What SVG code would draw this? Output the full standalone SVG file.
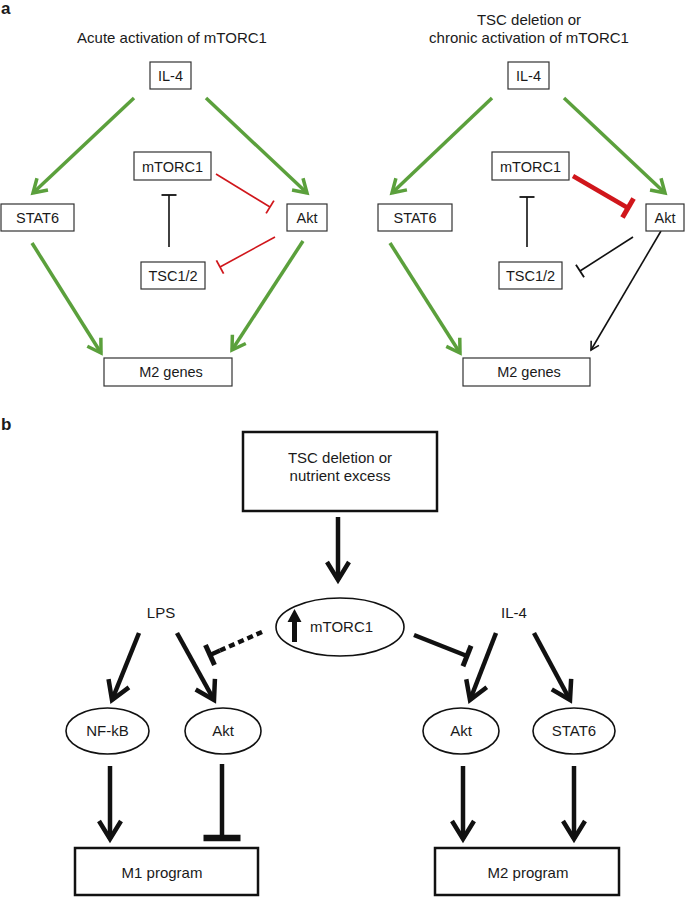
<svg xmlns="http://www.w3.org/2000/svg" width="685" height="897" viewBox="0 0 685 897">
<style>
text{font-family:"Liberation Sans",Arial,sans-serif;fill:#1a1a1a}
.t{font-size:15px;text-anchor:middle}
.bl{font-size:14.5px;text-anchor:middle}
.lab{font-size:17px;font-weight:bold}
.box{fill:#fff;stroke:#333;stroke-width:1.2}
.bbox{fill:#fff;stroke:#111;stroke-width:2.5}
.ell{fill:#fff;stroke:#111;stroke-width:1.6}
.g{stroke:#5ba03c;stroke-width:3.5;fill:none;marker-end:url(#aG)}
.rt{stroke:#d0161b;stroke-width:1.6;fill:none;marker-end:url(#bR)}
.rT{stroke:#d0161b;stroke-width:4.5;fill:none;marker-end:url(#bRT)}
.kt{stroke:#111;stroke-width:1.6;fill:none}
.K{stroke:#111;stroke-width:4.5;fill:none}
</style>
<defs>
<marker id="aG" markerUnits="userSpaceOnUse" orient="auto" overflow="visible" markerWidth="1" markerHeight="1"><path d="M-13,-8 L0,0 L-13,8" fill="none" stroke="#5ba03c" stroke-width="3.5"/></marker>
<marker id="aK" markerUnits="userSpaceOnUse" orient="auto" overflow="visible" markerWidth="1" markerHeight="1"><path d="M-18,-11 L0,0 L-18,11" fill="none" stroke="#111" stroke-width="4.5"/></marker>
<marker id="aKs" markerUnits="userSpaceOnUse" orient="auto" overflow="visible" markerWidth="1" markerHeight="1"><path d="M-8,-4.5 L0,0 L-8,4.5" fill="none" stroke="#111" stroke-width="1.6"/></marker>
<marker id="bR" markerUnits="userSpaceOnUse" orient="auto" overflow="visible" markerWidth="1" markerHeight="1"><path d="M0,-7.5 L0,7.5" stroke="#d0161b" stroke-width="1.8"/></marker>
<marker id="bRT" markerUnits="userSpaceOnUse" orient="auto" overflow="visible" markerWidth="1" markerHeight="1"><path d="M0,-11 L0,11" stroke="#d0161b" stroke-width="5"/></marker>
<marker id="bKt" markerUnits="userSpaceOnUse" orient="auto" overflow="visible" markerWidth="1" markerHeight="1"><path d="M0,-7.5 L0,7.5" stroke="#111" stroke-width="1.8"/></marker>
<marker id="bK" markerUnits="userSpaceOnUse" orient="auto" overflow="visible" markerWidth="1" markerHeight="1"><path d="M0,-11 L0,11" stroke="#111" stroke-width="5"/></marker>
<marker id="bKB" markerUnits="userSpaceOnUse" orient="auto" overflow="visible" markerWidth="1" markerHeight="1"><path d="M0,-18.5 L0,18.5" stroke="#111" stroke-width="6.5"/></marker>
</defs>
<rect width="685" height="897" fill="#fff"/>

<text class="lab" x="1" y="14">a</text>
<text class="lab" x="1" y="430">b</text>

<g id="titles">
<text class="t" x="172" y="43">Acute activation of mTORC1</text>
<text class="t" x="529" y="25">TSC deletion or</text>
<text class="t" x="529" y="43">chronic activation of mTORC1</text>
</g>

<g id="connectors">
<line class="g" x1="134" y1="98" x2="33" y2="193"/>
<line class="g" x1="206" y1="98" x2="307" y2="193"/>
<line class="g" x1="32" y1="243" x2="101" y2="353"/>
<line class="g" x1="303" y1="241" x2="232" y2="350"/>
<line class="rt" x1="216" y1="174" x2="270" y2="207"/>
<line class="rt" x1="275" y1="237" x2="220" y2="267"/>
<line class="kt" x1="169" y1="247" x2="169" y2="195" stroke-width="2" marker-end="url(#bKt)"/>
<line class="g" x1="492" y1="98" x2="392" y2="193"/>
<line class="g" x1="564" y1="98" x2="665" y2="193"/>
<line class="g" x1="390" y1="243" x2="460" y2="353"/>
<line class="kt" x1="661" y1="231" x2="591" y2="350" marker-end="url(#aKs)"/>
<line class="rT" x1="573" y1="176" x2="628" y2="208"/>
<line class="kt" x1="633" y1="237" x2="580" y2="271" marker-end="url(#bKt)"/>
<line class="kt" x1="527" y1="247" x2="527" y2="197" stroke-width="2" marker-end="url(#bKt)"/>
<line class="K" x1="338" y1="517" x2="338" y2="580" marker-end="url(#aK)"/>
<line class="K" x1="139" y1="633" x2="112" y2="700" marker-end="url(#aK)"/>
<line class="K" x1="177" y1="633" x2="214" y2="700" stroke-width="3.8" marker-end="url(#aK)"/>
<line class="K" x1="496" y1="633" x2="470" y2="700" marker-end="url(#aK)"/>
<line class="K" x1="534" y1="633" x2="570" y2="700" marker-end="url(#aK)"/>
<line class="K" x1="110" y1="766" x2="110" y2="839" marker-end="url(#aK)"/>
<line class="K" x1="463" y1="766" x2="463" y2="839" marker-end="url(#aK)"/>
<line class="K" x1="574" y1="766" x2="574" y2="839" marker-end="url(#aK)"/>
<line class="K" x1="222" y1="764" x2="222" y2="838" marker-end="url(#bKB)"/>
<line class="K" x1="262" y1="632" x2="220" y2="650.5" stroke-width="6" stroke-dasharray="6 4"/>
<line class="K" x1="220" y1="650.5" x2="210" y2="655" stroke-width="0" marker-end="url(#bK)"/>
<line class="K" x1="414" y1="635" x2="467" y2="656" marker-end="url(#bK)"/>
</g>

<g id="a-left-IL4"><rect class="box" x="150" y="62" width="41" height="27"/><text class="bl" x="170.5" y="81">IL-4</text></g>
<g id="a-left-mTORC1"><rect class="box" x="134" y="152" width="77" height="28"/><text class="bl" x="172.5" y="171.5">mTORC1</text></g>
<g id="a-left-STAT6"><rect class="box" x="1" y="204" width="73" height="27"/><text class="bl" x="37.5" y="223">STAT6</text></g>
<g id="a-left-Akt"><rect class="box" x="287" y="204" width="40" height="27"/><text class="bl" x="307" y="223">Akt</text></g>
<g id="a-left-TSC"><rect class="box" x="141" y="262" width="64" height="27"/><text class="bl" x="173" y="281">TSC1/2</text></g>
<g id="a-left-M2"><rect class="box" x="104" y="358" width="128" height="28"/><text class="bl" x="171" y="377">M2 genes</text></g>

<g id="a-right-IL4"><rect class="box" x="508" y="62" width="41" height="27"/><text class="bl" x="528.5" y="81">IL-4</text></g>
<g id="a-right-mTORC1"><rect class="box" x="492" y="152" width="77" height="28"/><text class="bl" x="530.5" y="171.5">mTORC1</text></g>
<g id="a-right-STAT6"><rect class="box" x="378" y="204" width="74" height="27"/><text class="bl" x="415" y="223">STAT6</text></g>
<g id="a-right-Akt"><rect class="box" x="646" y="204" width="38" height="27"/><text class="bl" x="665" y="223">Akt</text></g>
<g id="a-right-TSC"><rect class="box" x="499" y="262" width="63" height="27"/><text class="bl" x="530.5" y="281">TSC1/2</text></g>
<g id="a-right-M2"><rect class="box" x="463" y="358" width="127" height="28"/><text class="bl" x="529" y="377">M2 genes</text></g>

<g id="b-top"><rect class="bbox" x="243" y="432" width="194" height="79"/><text class="t" x="340" y="463">TSC deletion or</text><text class="t" x="340" y="481">nutrient excess</text></g>
<g id="b-mTORC1"><ellipse class="ell" cx="340" cy="627" rx="64" ry="29"/><path d="M292,642 L297,642 L297,622 L301.5,622 L294.5,609 L287.5,622 L292,622 Z" fill="#111"/><text x="310" y="632" style="font-size:15px">mTORC1</text></g>
<g id="b-LPS"><text class="t" x="161" y="618">LPS</text></g>
<g id="b-IL4"><text class="t" x="514" y="618">IL-4</text></g>
<g id="b-NFkB"><ellipse class="ell" cx="107.5" cy="731" rx="41.5" ry="23"/><text class="t" x="107.5" y="736">NF-kB</text></g>
<g id="b-Akt-left"><ellipse class="ell" cx="223" cy="731" rx="38" ry="23"/><text class="t" x="223" y="736">Akt</text></g>
<g id="b-Akt-right"><ellipse class="ell" cx="461" cy="731" rx="38" ry="23"/><text class="t" x="461" y="736">Akt</text></g>
<g id="b-STAT6"><ellipse class="ell" cx="574" cy="731" rx="41" ry="23"/><text class="t" x="574" y="736">STAT6</text></g>
<g id="b-M1"><rect class="bbox" x="75" y="848" width="183" height="47"/><text class="t" x="162" y="878">M1 program</text></g>
<g id="b-M2"><rect class="bbox" x="435" y="848" width="184" height="47"/><text class="t" x="528" y="878">M2 program</text></g>
</svg>
